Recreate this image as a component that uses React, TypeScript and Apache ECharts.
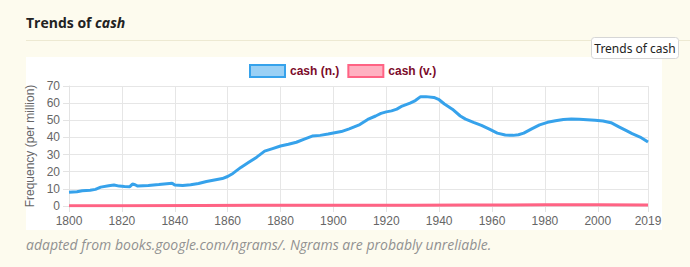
import React, { useEffect, useRef } from "react";
import * as echarts from "echarts";

const nounYears = [1800, 1803, 1805, 1808, 1810, 1812, 1815, 1817, 1819, 1821, 1823, 1824, 1825, 1826, 1830, 1834, 1837, 1839, 1840, 1843, 1846, 1849, 1852, 1855, 1858, 1860, 1862, 1865, 1868, 1871, 1874, 1877, 1880, 1883, 1886, 1889, 1892, 1895, 1898, 1900, 1903, 1906, 1910, 1913, 1916, 1918, 1920, 1922, 1924, 1926, 1929, 1931, 1933, 1935, 1938, 1940, 1942, 1945, 1948, 1950, 1953, 1956, 1959, 1962, 1965, 1968, 1970, 1972, 1975, 1978, 1981, 1984, 1987, 1990, 1993, 1996, 1999, 2002, 2005, 2008, 2011, 2013, 2016, 2019];
const nounValues = [8.0, 8.3, 8.9, 9.2, 9.7, 11.0, 11.8, 12.2, 11.6, 11.4, 11.3, 12.8, 12.4, 11.6, 12.0, 12.5, 13.0, 13.3, 12.2, 12.0, 12.4, 13.1, 14.3, 15.2, 16.0, 17.2, 19.0, 22.5, 25.5, 28.5, 32.0, 33.5, 35.0, 36.0, 37.2, 39.0, 40.8, 41.2, 42.0, 42.6, 43.4, 45.0, 47.5, 50.5, 52.5, 54.0, 54.9, 55.5, 56.5, 58.3, 60.0, 61.5, 63.8, 63.8, 63.3, 62.0, 59.5, 56.5, 52.5, 50.7, 48.8, 47.0, 44.8, 42.5, 41.4, 41.2, 41.6, 42.5, 45.0, 47.3, 48.8, 49.7, 50.5, 50.7, 50.6, 50.3, 50.0, 49.6, 48.6, 46.2, 43.8, 42.2, 40.2, 37.3];
const verbYears = [1800, 1820, 1850, 1880, 1900, 1930, 1950, 1980, 2000, 2019];
const verbValues = [0.1, 0.2, 0.3, 0.4, 0.4, 0.5, 0.6, 0.7, 0.7, 0.6];

const xMin = 1800;
const xMax = 2019;
const xStep = 20;
const yMin = 0;
const yMax = 70;
const yStep = 10;

const seriesNames = ["cash (n.)", "cash (v.)"];
const titleWord = "cash";
const footerText = "adapted from books.google.com/ngrams/. Ngrams are probably unreliable.";
const yAxisTitle = "Frequency (per million)";

export default function App() {
  const ref = useRef<HTMLDivElement>(null);
  useEffect(() => {
    if (!ref.current) return;
    const chart = echarts.init(ref.current, null, { renderer: "svg" });
    const font = "'Liberation Sans', Arial, sans-serif";
    const nounData = nounYears.map((y, i) => [y, nounValues[i]]);
    const verbData = verbYears.map((y, i) => [y, verbValues[i]]);
    chart.setOption({
      animation: false,
      backgroundColor: "#fdfbee",
      graphic: [
        {
          type: "rect",
          shape: { x: 26, y: 57, width: 636, height: 173 },
          style: { fill: "#ffffff" },
          z: -10,
          silent: true,
        },
        {
          type: "line",
          shape: { x1: 26, y1: 40.5, x2: 690, y2: 40.5 },
          style: { stroke: "#ede9d2", lineWidth: 1 },
          z: -10,
          silent: true,
        },
        {
          type: "text",
          x: 26,
          y: 22,
          style: {
            text: "{a|Trends of }{b|" + titleWord + "}",
            verticalAlign: "middle",
            rich: {
              a: { fontFamily: "'Open Sans', sans-serif", fontWeight: "bold", fontSize: 14, fill: "#222222" },
              b: { fontFamily: "'Open Sans', sans-serif", fontWeight: "bold", fontStyle: "italic", fontSize: 14, fill: "#222222" },
            },
          },
        },
        {
          type: "rect",
          shape: { x: 591.5, y: 37.5, width: 87, height: 21, r: 3 },
          style: { fill: "#ffffff", stroke: "#d6d6d6", lineWidth: 1 },
          z: 10,
        },
        {
          type: "text",
          x: 635,
          y: 48,
          z: 11,
          style: {
            text: "Trends of " + titleWord,
            align: "center",
            verticalAlign: "middle",
            fontFamily: "'Noto Sans', sans-serif",
            fontSize: 12,
            fill: "#222222",
          },
        },
        {
          type: "text",
          x: 26,
          y: 244,
          style: {
            text: footerText,
            verticalAlign: "middle",
            fontFamily: "'Open Sans', sans-serif",
            fontStyle: "italic",
            fontSize: 14,
            fill: "#919191",
          },
        },
      ],
      legend: {
        top: 59,
        left: 244,
        itemWidth: 35,
        itemHeight: 12,
        itemGap: 8,
        textStyle: { color: "#7b0b2a", fontWeight: "bold", fontSize: 12, fontFamily: font },
        data: [
          { name: seriesNames[0], icon: "rect", itemStyle: { color: "rgba(54,162,235,0.5)", borderColor: "#36a2eb", borderWidth: 2 } },
          { name: seriesNames[1], icon: "rect", itemStyle: { color: "rgba(255,99,132,0.5)", borderColor: "#ff6384", borderWidth: 2 } },
        ],
      },
      grid: { left: 69, right: 42, top: 86, bottom: 61 },
      xAxis: {
        type: "value",
        min: xMin,
        max: xMax,
        interval: xStep,
        axisLine: { show: true, lineStyle: { color: "#e3e3e3" } },
        axisTick: { show: true, length: 6, lineStyle: { color: "#e3e3e3" } },
        axisLabel: {
          color: "#666666",
          fontSize: 12,
          fontFamily: font,
          margin: 9,
          showMaxLabel: true,
          showMinLabel: true,
          formatter: (v: number) => String(v),
        },
        splitLine: { show: true, lineStyle: { color: "#e6e6e6" } },
      },
      yAxis: {
        type: "value",
        min: yMin,
        max: yMax,
        interval: yStep,
        name: yAxisTitle,
        nameLocation: "middle",
        nameRotate: 90,
        nameGap: 23,
        nameTextStyle: { color: "#666666", fontSize: 12, fontFamily: font },
        axisLine: { show: true, lineStyle: { color: "#e3e3e3" } },
        axisTick: { show: true, length: 6, lineStyle: { color: "#e3e3e3" } },
        axisLabel: { color: "#666666", fontSize: 12, fontFamily: font, margin: 9 },
        splitLine: { show: true, lineStyle: { color: "#e6e6e6" } },
      },
      series: [
        {
          name: seriesNames[0],
          type: "line",
          data: nounData,
          showSymbol: false,
          symbol: "none",
          lineStyle: { color: "#36a2eb", width: 3 },
          itemStyle: { color: "#36a2eb" },
          z: 3,
        },
        {
          name: seriesNames[1],
          type: "line",
          data: verbData,
          showSymbol: false,
          symbol: "none",
          lineStyle: { color: "#ff6384", width: 3 },
          itemStyle: { color: "#ff6384" },
          z: 2,
        },
      ],
    });
    return () => chart.dispose();
  }, []);
  return <div ref={ref} style={{ position: "absolute", left: 0, top: 0, width: 690, height: 267 }} />;
}
